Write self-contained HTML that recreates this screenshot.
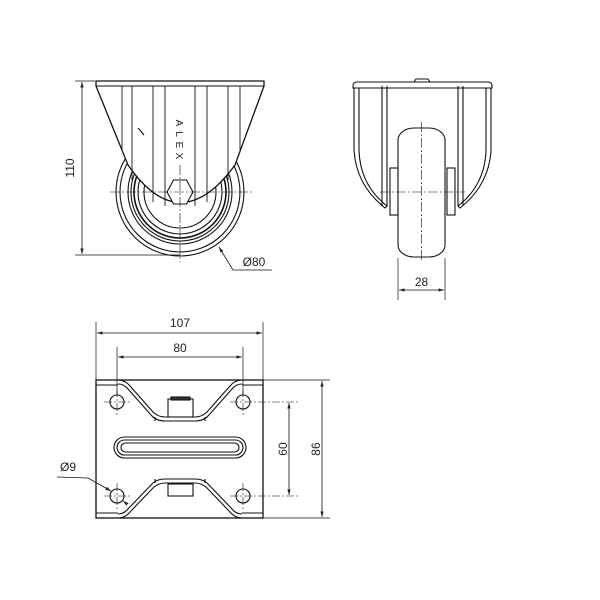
<!DOCTYPE html>
<html><head><style>body{margin:0;background:#fff}svg{display:block}</style></head><body>
<svg width="600" height="600" viewBox="0 0 600 600" xmlns="http://www.w3.org/2000/svg" font-family="Liberation Sans, sans-serif" fill="none" stroke="#111" stroke-width="1.1">
<defs><marker id="a" viewBox="0 0 10 10" refX="10" refY="5" markerWidth="7" markerHeight="7" orient="auto-start-reverse"><path d="M0,2 L10,5 L0,8z" fill="#222" stroke="none"/></marker></defs>
<!-- FRONT VIEW -->
<g>
<circle cx="180" cy="192" r="64"/><circle cx="180" cy="192" r="60"/>
<circle cx="180" cy="192" r="52"/><circle cx="180" cy="192" r="49"/>
<circle cx="180" cy="192" r="46" stroke-width="1.6"/><circle cx="180" cy="192" r="42"/>
<circle cx="180" cy="192" r="36"/>
<path d="M96,81 L264,81 L264,86 L235,165 Q180,240 128,165 L96,86 Z" fill="#fff" stroke-width="1.3"/>
<line x1="96" y1="86" x2="264" y2="86"/>
<g stroke-width="0.9">
<line x1="122" y1="86" x2="122" y2="150"/><line x1="132" y1="86" x2="132" y2="180"/>
<line x1="153" y1="86" x2="153" y2="202"/><line x1="165" y1="86" x2="165" y2="206"/>
<line x1="195" y1="86" x2="195" y2="206"/><line x1="207" y1="86" x2="207" y2="202"/>
<line x1="228" y1="86" x2="228" y2="180"/><line x1="240" y1="86" x2="240" y2="150"/>
</g>
<polygon points="167,192 173.5,180 186.5,180 193,192 186.5,204 173.5,204" fill="#fff"/>
<g font-size="10" fill="#222" stroke="none" text-anchor="middle">
<text x="180" y="0" transform="translate(0,0)"></text>
<text x="180" y="127" transform="rotate(90 180 123)">A</text>
<text x="180" y="138" transform="rotate(90 180 134)">L</text>
<text x="180" y="149" transform="rotate(90 180 145)">E</text>
<text x="180" y="160" transform="rotate(90 180 156)">X</text>
</g>
<line x1="138" y1="128" x2="144" y2="135"/>
<g stroke-width="0.6" stroke-dasharray="10,2,2,2"><line x1="110" y1="192" x2="252" y2="192"/><line x1="180" y1="165" x2="180" y2="262"/></g>
<line x1="75" y1="81" x2="95" y2="81" stroke-width="0.7"/><line x1="75" y1="255" x2="180" y2="255" stroke-width="0.7"/>
<line x1="82" y1="82" x2="82" y2="254" stroke-width="0.8" marker-start="url(#a)" marker-end="url(#a)"/>
<text x="74" y="168" font-size="12" fill="#222" stroke="none" text-anchor="middle" transform="rotate(-90 74 168)">110</text>
<polyline points="219,247 233,270 272,270" stroke-width="0.8" marker-start="url(#a)"/>
<text x="254" y="266" font-size="12" fill="#222" stroke="none" text-anchor="middle">Ø80</text>
</g>
<!-- SIDE VIEW -->
<g>
<path d="M353,86 Q353,82 357,82 L488,82 Q492,82 492,86 L492,88 L353,88 Z"/>
<path d="M414,82 l2,-3 h12 l2,3" />
<path d="M354,88 L354,150 Q356,185 385,208 L387,206 Q360,185 359,150 L359,88"/>
<path d="M491,88 L491,150 Q489,185 460,208 L458,206 Q485,185 486,150 L486,88"/>
<line x1="382" y1="86" x2="382" y2="206"/><line x1="387" y1="86" x2="387" y2="206"/>
<line x1="458" y1="86" x2="458" y2="206"/><line x1="463" y1="86" x2="463" y2="206"/>
<rect x="390" y="168" width="8" height="47"/><rect x="447" y="168" width="8" height="47"/>
<rect x="398" y="128" width="47" height="129" rx="16" ry="12" fill="#fff"/>
<g stroke-width="0.6" stroke-dasharray="10,2,2,2"><line x1="380" y1="192" x2="465" y2="192"/><line x1="421.5" y1="122" x2="421.5" y2="262"/></g>
<line x1="398" y1="258" x2="398" y2="300" stroke-width="0.7"/><line x1="445" y1="258" x2="445" y2="300" stroke-width="0.7"/>
<line x1="399" y1="290" x2="444" y2="290" stroke-width="0.8" marker-start="url(#a)" marker-end="url(#a)"/>
<text x="421.5" y="286" font-size="12" fill="#222" stroke="none" text-anchor="middle">28</text>
</g>
<!-- TOP VIEW -->
<g>
<rect x="96" y="380" width="167" height="138" stroke-width="1.3"/>
<line x1="96" y1="385" x2="118" y2="385"/><line x1="242" y1="385" x2="263" y2="385"/>
<line x1="96" y1="513" x2="118" y2="513"/><line x1="242" y1="513" x2="263" y2="513"/>
<path d="M118,380 Q125,380 130,386 L153,412 Q158,417 165,417 L195,417 Q202,417 207,412 L230,386 Q235,380 242,380"/>
<path d="M118,384 Q124,384 128,389 L151,415 Q156,421 165,421 L195,421 Q204,421 209,415 L232,389 Q236,384 242,384"/>
<line x1="155" y1="417" x2="155" y2="421"/><line x1="205" y1="417" x2="205" y2="421"/>
<rect x="168" y="399" width="25" height="18" fill="#fff"/><rect x="171" y="397" width="19" height="3" fill="#333"/>
<path d="M118,518 Q125,518 130,512 L153,488 Q158,483 165,483 L195,483 Q202,483 207,488 L230,512 Q235,518 242,518"/>
<path d="M118,514 Q124,514 128,509 L151,485 Q156,479 165,479 L195,479 Q204,479 209,485 L232,509 Q236,514 242,514"/>
<line x1="155" y1="479" x2="155" y2="483"/><line x1="205" y1="479" x2="205" y2="483"/>
<rect x="168" y="484" width="25" height="12" fill="#fff"/>
<rect x="114" y="437" width="132" height="21" rx="10.5"/>
<rect x="117" y="440" width="126" height="15" rx="7.5"/>
<rect x="121" y="443" width="118" height="9" rx="4.5"/>
<g><circle cx="117" cy="402" r="7"/><circle cx="243" cy="402" r="7"/><circle cx="117" cy="496" r="7"/><circle cx="243" cy="496" r="7"/></g>
<g stroke-width="0.6" stroke-dasharray="8,2,2,2">
<line x1="104" y1="402" x2="130" y2="402"/><line x1="117" y1="389" x2="117" y2="415"/>
<line x1="230" y1="402" x2="298" y2="402"/><line x1="243" y1="389" x2="243" y2="415"/>
<line x1="104" y1="496" x2="130" y2="496"/><line x1="117" y1="483" x2="117" y2="509"/>
<line x1="230" y1="496" x2="298" y2="496"/><line x1="243" y1="483" x2="243" y2="509"/>
</g>
<g stroke-width="0.7">
<line x1="96" y1="322" x2="96" y2="380"/><line x1="263" y1="322" x2="263" y2="380"/>
<line x1="117" y1="347" x2="117" y2="395"/><line x1="243" y1="347" x2="243" y2="395"/>
<line x1="263" y1="380" x2="330" y2="380"/><line x1="263" y1="518" x2="330" y2="518"/>
</g>
<g stroke-width="0.8">
<line x1="97" y1="333" x2="262" y2="333" marker-start="url(#a)" marker-end="url(#a)"/>
<line x1="118" y1="357" x2="242" y2="357" marker-start="url(#a)" marker-end="url(#a)"/>
<line x1="322" y1="381" x2="322" y2="517" marker-start="url(#a)" marker-end="url(#a)"/>
<line x1="289" y1="403" x2="289" y2="495" marker-start="url(#a)" marker-end="url(#a)"/>
<polyline points="57,477 88,478 111,491" marker-end="url(#a)"/>
<line x1="127" y1="504" x2="123" y2="501" marker-end="url(#a)"/>
</g>
<g font-size="12" fill="#222" stroke="none" text-anchor="middle">
<text x="180" y="327">107</text><text x="180" y="352">80</text>
<text x="316" y="449" transform="rotate(-90 316 449)" dy="4">86</text>
<text x="283" y="449" transform="rotate(-90 283 449)" dy="4">60</text>
<text x="68" y="471">Ø9</text>
</g>
</g>
</svg>
</body></html>
